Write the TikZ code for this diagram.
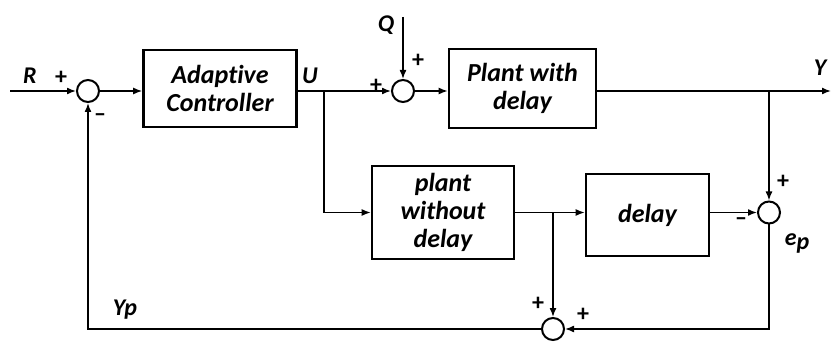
\documentclass[tikz,border=0pt]{standalone}
\usepackage{fontspec}
\setmainfont{Carlito}[Ligatures=NoCommon]
\usetikzlibrary{arrows.meta}
\begin{document}
\begin{tikzpicture}[x=1pt,y=-1pt,
  blk/.style={draw, line width=2.6pt, align=center, inner sep=0pt,
    font=\fontsize{26}{28}\selectfont\bfseries\itshape},
  sumc/.style={draw, circle, line width=2pt, minimum size=22pt, inner sep=0pt},
  lbl/.style={font=\fontsize{24}{26}\selectfont\bfseries\itshape, inner sep=0pt},
  sgn/.style={font=\fontsize{24}{26}\selectfont\bfseries, inner sep=0pt},
  conn/.style={line width=1.5pt, -{Latex[length=9pt,width=7pt]}},
  ln/.style={line width=1.5pt}]
\useasboundingbox (0,0) rectangle (831,342);

% blocks
\node[blk, minimum width=153pt, minimum height=77pt] (ctrl) at (220,88.5) {Adaptive\\Controller};
\node[blk, minimum width=147pt, minimum height=79pt] (plant) at (522.5,88.5) {Plant with\\delay};
\node[blk, minimum width=142pt, minimum height=93pt] (pwo) at (443,212.5) {plant\\without\\delay};
\node[blk, minimum width=123pt, minimum height=82pt] (dly) at (647.5,215) {delay};

% summing junctions
\node[sumc] (s1) at (88,91) {};
\node[sumc] (s2) at (403,91) {};
\node[sumc] (s3) at (769,212.5) {};
\node[sumc] (s4) at (553,329) {};

% free ends and branch points
\coordinate (in) at (10,91);
\coordinate (yout) at (831,91);
\coordinate (qtop) at (403,17);
\coordinate (ubr) at (324,91);
\coordinate (ybr) at (769,91);
\coordinate (dbr) at (553,212.5);

% connectors
\draw[conn] (in) -- (s1);
\draw[conn] (s1) -- (s1 -| ctrl.west);
\draw[conn] (ctrl.east |- s2) -- (s2);
\draw[conn] (s2) -- (s2 -| plant.west);
\draw[conn] (qtop) -- (s2);
\draw[conn] (plant.east |- yout) -- (yout);
\draw[conn] (ybr) -- (s3);
\draw[conn] (ubr) |- (pwo.west);
\draw[conn] (pwo.east) -- (pwo.east -| dly.west);
\draw[conn] (dly.east |- s3) -- (s3);
\draw[conn] (dbr) -- (s4);
\draw[conn] (s3) |- (s4);
\draw[conn] (s4) -| (s1);

% labels
\node[lbl] (lR) at (30,76) {R};
\node[sgn] (p1) at (61,78) {+};
\node[sgn] (m1) at (100,118) {–};
\node[lbl] (lU) at (310,76) {U};
\node[sgn] (p2a) at (376,86) {+};
\node[sgn] (p2b) at (418,61) {+};
\node[lbl] (lQ) at (386,25) {Q};
\node[lbl] (lY) at (820,68) {Y};
\node[sgn] (p3) at (783,182) {+};
\node[sgn] (m3) at (741,222) {–};
\node[lbl] (lep) at (797,243) {e\raisebox{-4pt}{p}};
\node[sgn] (p4a) at (538,304) {+};
\node[sgn] (p4b) at (583,315) {+};
\node[lbl] (lYp) at (125,310) {Yp};
\end{tikzpicture}
\end{document}
